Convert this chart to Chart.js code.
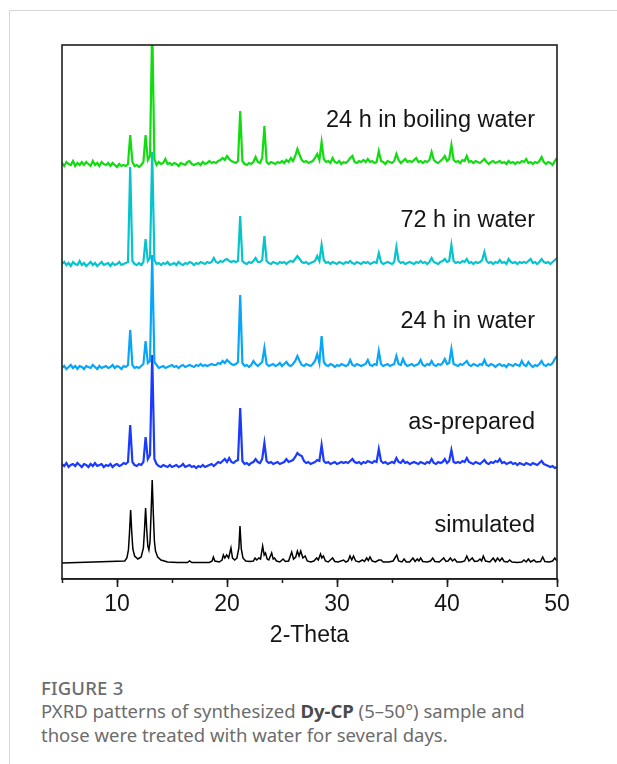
<!DOCTYPE html>
<html>
<head>
<meta charset="utf-8">
<script src="https://cdn.jsdelivr.net/npm/chart.js@4.4.1/dist/chart.umd.min.js"></script>
<style>
  html, body { margin: 0; padding: 0; background: #fff; }
  body { width: 617px; height: 764px; position: relative; overflow: hidden; }
  .page { position: absolute; left: 9px; top: 10px; right: 0; bottom: 0; border-left: 1px solid #d6d6d6; border-top: 1px solid #d6d6d6; }
  #wrap { position: absolute; left: 0; top: 0; width: 617px; height: 660px; }
  .fig { position: absolute; left: 41px; top: 675px; font-family: "Noto Sans", "Open Sans", sans-serif; font-size: 18.5px; font-weight: 500; color: #6c6c6c; letter-spacing: 0.2px; }
  .cap { position: absolute; left: 41px; top: 699px; width: 500px; font-family: "Noto Sans", "Open Sans", sans-serif; font-size: 18.5px; line-height: 24px; color: #6c6c6c; }
  .cap b { color: #4a4a4a; }
</style>
</head>
<body>
<div class="page"></div>
<div id="wrap"><canvas id="pxrdChart" width="617" height="660"></canvas></div>
<div class="fig">FIGURE 3</div>
<div class="cap">PXRD patterns of synthesized <b>Dy-CP</b> (5–50°) sample and those were treated with water for several days.</div>
<script>
// 2-Theta grid of the measured patterns: 5.0 .. 50.0, step 0.2 (one row = 2 degrees)
const gridStart = 5;
const gridStep = 0.2;

const seriesNames = ['24 h in boiling water', '72 h in water', '24 h in water', 'as-prepared', 'simulated'];
const seriesColors = ['#10dc10', '#06c4cc', '#08a6f8', '#1a3aff', '#000000'];
const stackOffsets = [415, 315, 212, 114, 16];
const xTicks = [10, 20, 30, 40, 50];

const boilingWater = [
    1, -2, 2, 0, -1, 3, -2, 1, -1, 2,
    -1, 2, 0, -2, 3, -1, 1, -2, 2, 0,
    -1, 1, -2, 1, -1, -3, 0, -2, -1, -2,
    0, 29, 2, -2, -1, -3, -1, 2, 29, 4,
    8, 140, 5, -1, 2, 0, 1, 5, 0, 1,
    -1, 1, 0, -2, 1, 0, -1, 2, 3, 0,
    -1, 0, 1, -1, 2, 0, 1, 3, 1, 2,
    1, 3, 4, 6, 4, 8, 5, 3, 2, 1,
    3, 53, 3, 0, -1, 1, 0, 2, 7, 2,
    1, 6, 38, 2, 0, 2, 1, 0, 2, 1,
    3, 1, 4, 2, 6, 3, 8, 15, 9, 4,
    2, 3, 1, 2, 3, 6, 10, 4, 22, 5,
    2, 3, 1, 6, 2, 1, 3, 0, 2, 1,
    3, 6, 8, 2, 1, 3, 2, 4, 2, 5,
    2, 3, 1, 2, 13, 3, 2, 0, 3, 2,
    1, 3, 10, 4, 1, 3, 5, 2, 3, 2,
    4, 6, 2, 3, 1, 3, 2, 4, 12, 4,
    2, 1, 3, 5, 8, 3, 5, 19, 4, 2,
    3, 1, 4, 3, 8, 2, 3, 1, 3, 2,
    1, 3, 5, 2, 0, 2, 3, 1, 2, 3,
    1, 2, 0, 3, 1, 2, 0, 2, 1, 3,
    2, 5, 1, 2, 0, 2, 1, 3, 7, 2,
    0, 2, 1, -1, 3, 6
];

const water72h = [
    0, 2, -1, 1, -2, 2, 0, -1, 3, -1,
    1, -2, 0, 2, -1, 1, -2, 0, 2, -1,
    0, 1, -2, 1, -1, 0, 2, -1, 0, 1,
    2, 97, 3, 0, -1, 1, -1, 2, 25, 3,
    6, 112, 4, 0, 1, -1, 1, 0, 2, -1,
    0, 1, -1, 2, 0, -1, 1, 0, 2, 1,
    -1, 1, 0, 2, 1, 0, 2, 1, 2, 6,
    2, 1, 3, 2, 4, 5, 3, 2, 3, 2,
    3, 48, 3, 1, 0, 2, 1, 3, 6, 2,
    2, 4, 28, 3, 1, 0, 2, 1, 0, 2,
    1, 2, 0, 2, 3, 2, 5, 8, 5, 2,
    1, 2, 0, 1, 2, 3, 8, 3, 19, 4,
    1, 2, 0, 2, 1, 0, 2, 1, 0, 2,
    1, 3, 1, 0, 2, 1, 0, 2, 1, 2,
    0, 1, 2, 1, 11, 2, 0, 1, 2, 1,
    0, 2, 17, 3, 1, 2, 0, 1, 2, 1,
    0, 2, 1, 3, 1, 2, 0, 2, 6, 2,
    1, 0, 2, 3, 5, 2, 3, 19, 3, 1,
    2, 1, 3, 2, 5, 1, 2, 0, 2, 1,
    2, 4, 12, 3, 1, 2, 0, 2, 1, 4,
    1, 2, 0, 5, 2, 1, 2, 0, 2, 1,
    2, 1, 3, 5, 1, 2, 0, 2, 5, 2,
    1, 2, 0, 2, 4, 6
];

const water24h = [
    -1, 1, -2, 0, 2, -1, 1, -2, 1, 0,
    -2, 1, 0, -1, 2, 0, -2, 1, -1, 0,
    1, -1, 0, 2, -1, 1, 0, -2, 1, 0,
    2, 37, 2, -1, 0, -1, 1, 3, 26, 4,
    6, 112, 5, 2, -1, 0, 1, -1, 0, 1,
    2, 0, 1, -1, 1, 2, 0, 1, 2, 1,
    0, 2, 1, 3, 1, 2, 1, 2, 3, 2,
    2, 4, 3, 6, 4, 7, 5, 3, 2, 3,
    5, 72, 4, 1, 2, 0, 2, 6, 3, 1,
    3, 5, 19, 3, 1, 2, 3, 1, 2, 4,
    1, 3, 5, 2, 1, 3, 6, 11, 6, 2,
    1, 3, 2, 1, 3, 6, 13, 4, 31, 5,
    2, 1, 3, 2, 0, 2, 1, 3, 2, 1,
    2, 7, 2, 1, 3, 2, 1, 2, 3, 7,
    2, 1, 3, 2, 16, 3, 1, 2, 3, 1,
    2, 3, 11, 3, 2, 8, 3, 1, 2, 3,
    1, 2, 3, 7, 2, 1, 3, 2, 6, 2,
    1, 3, 2, 4, 8, 3, 4, 18, 3, 2,
    1, 3, 2, 4, 6, 2, 1, 3, 2, 1,
    3, 2, 7, 2, 1, 3, 2, 0, 2, 3,
    1, 2, 0, 3, 2, 1, 3, 2, 1, 6,
    2, 1, 5, 2, 0, 2, 1, 3, 6, 2,
    1, 3, 2, 4, 8, 11
];

const asPrepared = [
    1, -1, 2, -2, 0, 1, -1, 2, 0, -2,
    1, 0, -2, 1, -1, 2, -1, 0, 1, -2,
    0, -1, 1, -2, 0, 1, -1, 0, 2, 1,
    3, 40, 3, 0, -1, 1, 0, 3, 28, 6,
    10, 110, 6, 1, -1, -2, 0, -1, -2, 0,
    -2, -1, 0, -2, -1, 1, -2, -1, 0, -2,
    -1, -3, -1, -2, 0, -2, -1, 0, 1, -1,
    1, 3, 2, 4, 6, 3, 7, 3, 2, 4,
    5, 57, 4, 1, 2, 0, 2, 3, 6, 3,
    2, 6, 22, 4, 2, 3, 1, 2, 3, 1,
    2, 3, 6, 3, 4, 5, 8, 12, 10, 9,
    4, 2, 3, 1, 2, 3, 5, 4, 20, 4,
    2, 3, 1, 2, 3, 1, 2, 3, 2, 3,
    2, 4, 6, 3, 2, 3, 1, 3, 2, 4,
    3, 2, 4, 3, 16, 4, 2, 3, 1, 2,
    3, 2, 7, 3, 2, 5, 2, 3, 1, 2,
    3, 2, 1, 3, 2, 1, 3, 2, 6, 2,
    1, 3, 2, 3, 6, 2, 4, 15, 3, 2,
    3, 2, 4, 3, 7, 3, 2, 1, 3, 2,
    1, 3, 5, 2, 1, 3, 2, 4, 3, 6,
    2, 3, 1, 2, 3, 1, 2, 0, 2, 1,
    0, 2, 1, 0, 2, 1, 0, 2, 4, 1,
    0, -1, -2, -1, -3, -2
];

// simulated pattern, read as [2-Theta, intensity] pairs
const simulated = [
    [5.0, 0], [10.7, 2], [10.9, 5], [11.04, 13], [11.14, 31], [11.24, 53], [11.34, 31], [11.44, 14],
    [11.6, 7], [11.9, 4], [12.2, 6], [12.4, 15], [12.5, 33], [12.6, 55], [12.7, 34], [12.8, 17],
    [12.9, 13], [13.0, 21], [13.1, 50], [13.2, 83], [13.3, 50], [13.4, 22], [13.5, 12], [13.7, 6],
    [14.0, 3], [14.6, 1], [15.5, 0.5], [16.4, 0.5], [16.6, 2], [16.8, 0.5], [18.4, 0.5], [18.65, 2],
    [18.76, 6], [18.9, 2], [19.3, 1], [19.55, 3], [19.67, 8], [19.8, 5], [19.97, 8], [20.15, 5],
    [20.36, 15], [20.5, 5], [20.7, 3], [20.9, 5], [21.08, 15], [21.18, 37], [21.3, 14], [21.45, 5],
    [21.7, 2], [22.1, 1.5], [22.4, 2], [22.55, 5], [22.7, 3], [22.9, 5], [23.05, 4], [23.24, 17],
    [23.38, 8], [23.5, 10], [23.65, 4], [23.8, 3], [24.06, 10], [24.2, 4], [24.32, 5], [24.5, 2],
    [24.8, 1], [25.1, 4], [25.3, 1.5], [25.6, 2], [25.88, 11], [26.05, 4], [26.25, 6], [26.4, 12],
    [26.55, 7], [26.7, 12], [26.9, 5], [27.1, 7], [27.3, 2], [27.6, 1], [27.9, 2], [28.15, 5],
    [28.3, 3], [28.5, 9], [28.62, 5], [28.76, 7], [28.95, 2], [29.2, 1], [29.6, 5], [29.8, 1.5],
    [30.1, 1], [30.6, 3], [30.8, 1], [31.0, 2], [31.18, 7], [31.34, 3], [31.5, 7], [31.7, 2],
    [32.0, 1], [32.3, 3], [32.5, 1.5], [32.7, 5], [32.85, 2.5], [33.0, 6], [33.2, 2], [33.5, 1],
    [33.8, 3], [34.0, 3], [34.2, 1], [34.7, 1], [35.1, 2], [35.43, 8], [35.6, 2], [35.9, 1],
    [36.1, 4], [36.3, 1], [36.6, 1], [36.9, 5], [37.1, 1.5], [37.3, 4], [37.45, 2], [37.6, 5],
    [37.8, 1.5], [38.2, 1], [38.5, 2], [38.7, 5], [38.9, 1.5], [39.3, 1], [39.7, 5], [39.9, 1.5],
    [40.1, 2], [40.3, 5], [40.5, 2], [40.7, 4], [40.9, 1], [41.3, 1], [41.6, 2], [41.8, 7],
    [42.0, 2], [42.3, 5], [42.5, 1.5], [42.8, 2], [43.0, 4], [43.15, 2], [43.3, 7], [43.5, 2],
    [43.9, 1], [44.2, 5], [44.4, 1.5], [44.6, 5], [44.8, 2], [45.0, 5], [45.2, 1.5], [45.5, 1],
    [45.7, 3], [45.9, 1], [46.4, 0.5], [46.8, 1], [47.0, 3], [47.2, 1], [47.4, 4], [47.6, 1],
    [47.9, 3], [48.1, 1], [48.5, 1.5], [48.7, 6], [48.9, 1.5], [49.3, 1], [49.6, 2], [49.8, 5],
    [50.0, 2]
];

// how far above its own baseline each name sits (px)
const labelLift = [37, 37, 39, 36, 31];
const axisFont = '"Liberation Sans", Arial, sans-serif';

function gridPoints(values, offset) {
    return values.map((v, i) => ({
        x: +(gridStart + gridStep * i).toFixed(1),
        y: v + offset
    }));
}

function pairPoints(pairs, offset) {
    return pairs.map(p => ({ x: p[0], y: p[1] + offset }));
}

const measured = [boilingWater, water72h, water24h, asPrepared];
const datasets = measured.map((vals, i) => ({
    label: seriesNames[i],
    data: gridPoints(vals, stackOffsets[i]),
    borderColor: seriesColors[i],
    borderWidth: 2.2,
    pointRadius: 0,
    tension: 0,
    fill: false
}));
datasets.push({
    label: seriesNames[4],
    data: pairPoints(simulated, stackOffsets[4]),
    borderColor: seriesColors[4],
    borderWidth: 1.5,
    pointRadius: 0,
    tension: 0,
    fill: false
});

// frame box, longer major ticks and the pattern names
const pxrdDecor = {
    id: 'pxrdDecor',
    afterDraw(chart) {
        const { ctx, chartArea: a, scales: { x, y } } = chart;
        ctx.save();
        ctx.strokeStyle = '#1e1e1e';
        ctx.lineWidth = 1.6;
        ctx.strokeRect(a.left, a.top, a.right - a.left, a.bottom - a.top);
        ctx.beginPath();
        xTicks.forEach(v => {
            const px = Math.round(x.getPixelForValue(v)) + 0.5;
            ctx.moveTo(px, a.bottom);
            ctx.lineTo(px, a.bottom + 8);
        });
        ctx.stroke();

        ctx.font = '23.5px ' + axisFont;
        ctx.fillStyle = '#151515';
        ctx.textAlign = 'right';
        ctx.textBaseline = 'alphabetic';
        seriesNames.forEach((name, i) => {
            ctx.fillText(name, x.getPixelForValue(50) - 22, y.getPixelForValue(stackOffsets[i]) - labelLift[i]);
        });
        ctx.restore();
    }
};

const ctx = document.getElementById('pxrdChart').getContext('2d');
new Chart(ctx, {
    type: 'line',
    data: { datasets: datasets },
    options: {
        responsive: false,
        animation: false,
        events: [],
        layout: { padding: { left: 62, right: 60, top: 45, bottom: 5 } },
        plugins: { legend: { display: false }, tooltip: { enabled: false } },
        scales: {
            x: {
                type: 'linear',
                min: 5,
                max: 50,
                afterFit: scale => { scale.height = 76; },
                ticks: {
                    stepSize: 5,
                    autoSkip: false,
                    maxRotation: 0,
                    padding: 8,
                    color: '#151515',
                    font: { family: axisFont, size: 23 },
                    callback: v => (v % 10 === 0 ? v : '')
                },
                grid: {
                    drawOnChartArea: false,
                    tickLength: 4,
                    tickColor: '#1e1e1e',
                    tickWidth: 1.5
                },
                border: { color: '#1e1e1e', width: 1.6 },
                title: {
                    display: true,
                    text: '2-Theta',
                    color: '#151515',
                    font: { family: axisFont, size: 23 },
                    padding: { top: 0, bottom: 6 }
                }
            },
            y: {
                display: false,
                min: 0,
                max: 534
            }
        }
    },
    plugins: [pxrdDecor]
});
</script>
</body>
</html>
